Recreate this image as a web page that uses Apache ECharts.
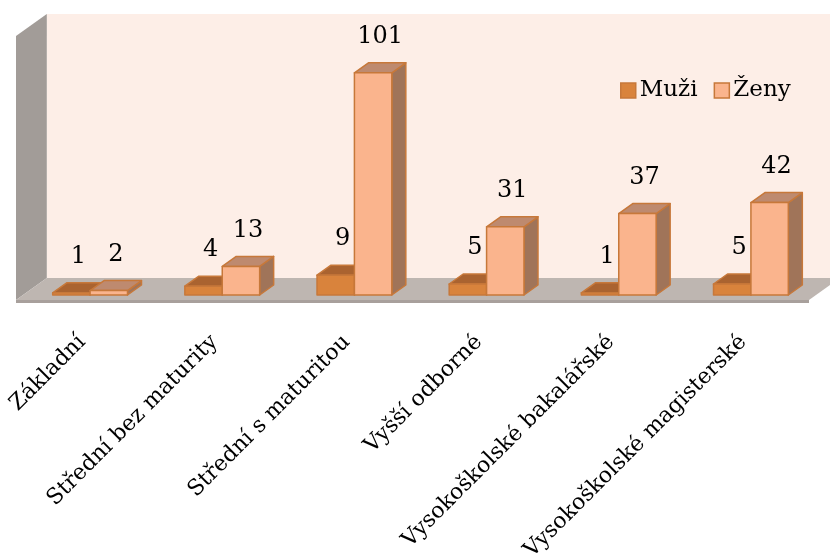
<!DOCTYPE html>
<html>
<head>
<meta charset="utf-8">
<script src="https://cdn.jsdelivr.net/npm/echarts@6/dist/echarts.min.js"></script>
<style>
  html, body { margin: 0; padding: 0; background: #ffffff; }
  #chart { width: 830px; height: 554px; }
</style>
</head>
<body>
<div id="chart"></div>
<script>
// Education level categories and counts per gender
const categories = [
  'Základní',
  'Střední bez maturity',
  'Střední s maturitou',
  'Vyšší odborné',
  'Vysokoškolské bakalářské',
  'Vysokoškolské magisterské'
];
const seriesNames = ['Muži', 'Ženy'];
const muziValues = [1, 4, 9, 5, 1, 5];
const zenyValues = [2, 13, 101, 31, 37, 42];
const axisMax = 120;

// Pseudo-3D styling
const DX = 14, DY = 10;          // bar depth offset
const WALL_DX = 1.4;             // x shift per 1px of depth
const FLOOR_FRONT = -5, FLOOR_BACK = 17;
const BAR_RATIO = 0.283;
const FONT = '"DejaVu Serif", "Liberation Serif", serif';

const palette = {
  muzi: { front: '#D9833C', top: '#AA6330', side: '#98582A' },
  zeny: { front: '#FAB48D', top: '#BE8A6F', side: '#A07459' },
  stroke: '#C7783A'
};

function depthPt(x, y, t) { return [x + WALL_DX * t, y - t]; }

// Back wall, side wall and floor, laid out from the grid rectangle
function renderWalls(params, api) {
  const cs = params.coordSys;
  const L = cs.x - 1, R = cs.x + cs.width - 1;
  const T = cs.y, B = cs.y + cs.height;
  const poly = (pts, fill) => ({
    type: 'polygon', shape: { points: pts }, style: { fill: fill }
  });
  const fl = depthPt(L, B, FLOOR_FRONT), fr = depthPt(R, B, FLOOR_FRONT);
  return {
    type: 'group', silent: true,
    children: [
      poly([depthPt(L, T, FLOOR_BACK), depthPt(R + 60, T, FLOOR_BACK),
            depthPt(R + 60, B, FLOOR_BACK), depthPt(L, B, FLOOR_BACK)], '#FDEEE7'),
      poly([depthPt(L, T, FLOOR_FRONT), depthPt(L, T, FLOOR_BACK),
            depthPt(L, B, FLOOR_BACK), fl], '#A29C98'),
      // floor slab front edge
      poly([fl, fr, [fr[0], fr[1] + 3], [fl[0], fl[1] + 3]], '#A8A09C'),
      poly([fl, fr, depthPt(R, B, FLOOR_BACK), depthPt(L, B, FLOOR_BACK)], '#BEB6B1')
    ]
  };
}

// One box per category, placed left or right of the category centre
function boxRenderer(side, colors) {
  return function (params, api) {
    const cat = api.value(0), val = api.value(1);
    const base = api.coord([cat, 0]);
    const top = api.coord([cat, val]);
    const w = api.size([1, 0])[0] * BAR_RATIO;
    const x0 = side < 0 ? base[0] - w : base[0];
    const x1 = x0 + w;
    const yb = base[1], yt = top[1];
    const st = { stroke: palette.stroke, lineWidth: 1.5, lineJoin: 'round' };
    return {
      type: 'group',
      children: [
        { type: 'polygon', shape: { points: [[x1, yt], [x1 + DX, yt - DY], [x1 + DX, yb - DY], [x1, yb]] },
          style: Object.assign({ fill: colors.side }, st) },
        { type: 'polygon', shape: { points: [[x0, yt], [x1, yt], [x1 + DX, yt - DY], [x0 + DX, yt - DY]] },
          style: Object.assign({ fill: colors.top }, st) },
        { type: 'rect', shape: { x: x0, y: yt, width: w, height: yb - yt },
          style: Object.assign({ fill: colors.front }, st) },
        { type: 'text',
          style: { text: String(val), x: (x0 + x1) / 2 + DX / 2, y: yt - DY / 2 - 31,
                   align: 'center', verticalAlign: 'middle',
                   font: '24px ' + FONT, fill: '#000000' } }
      ]
    };
  };
}

const chart = echarts.init(document.getElementById('chart'), null, { renderer: 'canvas' });
chart.setOption({
  animation: false,
  backgroundColor: '#ffffff',
  grid: { left: 24, right: 13, top: 31, bottom: 259, containLabel: false, outerBoundsMode: 'none' },
  xAxis: {
    type: 'category',
    data: categories,
    axisLine: { show: false },
    axisTick: { show: false },
    splitLine: { show: false },
    axisLabel: {
      rotate: 45, margin: 36, interval: 0,
      padding: [0, 11, 0, 0],
      fontFamily: FONT, fontSize: 22, color: '#000000'
    }
  },
  yAxis: { type: 'value', min: 0, max: axisMax, show: false },
  legend: {
    data: [
      { name: seriesNames[0], itemStyle: { color: palette.muzi.front, borderColor: palette.stroke, borderWidth: 1.5 } },
      { name: seriesNames[1], itemStyle: { color: palette.zeny.front, borderColor: palette.stroke, borderWidth: 1.5 } }
    ],
    left: 620, top: 79, padding: 0,
    icon: 'rect', itemWidth: 15, itemHeight: 15, itemGap: 16,
    textStyle: { fontFamily: FONT, fontSize: 23, color: '#000000', padding: [0, 0, 0, -1] }
  },
  series: [
    { name: 'walls', type: 'custom', renderItem: renderWalls, data: [[0, 0]], silent: true, z: 1 },
    { name: seriesNames[0], type: 'custom', renderItem: boxRenderer(-1, palette.muzi),
      itemStyle: { color: palette.muzi.front }, z: 2,
      data: muziValues.map((v, i) => [i, v]), encode: { x: 0, y: 1 } },
    { name: seriesNames[1], type: 'custom', renderItem: boxRenderer(1, palette.zeny),
      itemStyle: { color: palette.zeny.front }, z: 3,
      data: zenyValues.map((v, i) => [i, v]), encode: { x: 0, y: 1 } }
  ]
});
</script>
</body>
</html>
